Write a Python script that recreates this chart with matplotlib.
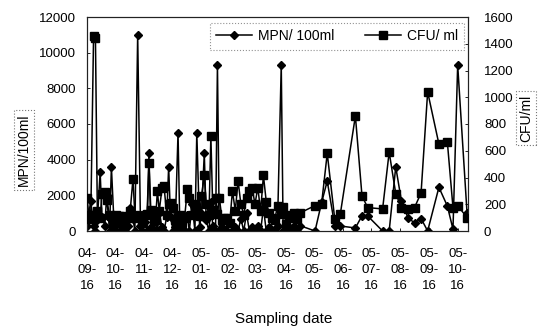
import matplotlib
matplotlib.use('Agg')
import matplotlib.pyplot as plt
import matplotlib.dates as mdates
from matplotlib.lines import Line2D
import datetime as dt

plt.rcParams['font.family'] = ['Liberation Sans', 'DejaVu Sans']

start_date = '2004-09-16'
# sampling day (days since 2004-09-16)
sample_day = [0, 2, 4, 7, 9, 11, 14, 16, 19, 21, 24, 26, 29, 31, 34, 36, 39, 41, 44, 46,
              49, 51, 54, 57, 59, 62, 64, 66, 68, 71, 73, 75, 77, 80, 82, 85, 87, 89, 92, 94,
              97, 99, 101, 104, 107, 109, 112, 115, 117, 120, 122, 125, 127, 130, 132, 134, 137, 139, 141, 144,
              146, 149, 152, 155, 158, 161, 164, 167, 170, 173, 176, 179, 182, 185, 188, 191, 194, 197, 200, 203,
              207, 209, 212, 215, 218, 221, 224, 227, 243, 250, 256, 264, 270, 286, 293, 299, 315, 322, 329, 335,
              342, 349, 356, 363, 375, 384, 390, 395, 405]
mpn = [300, 1000, 1700, 300, 0, 600, 3300, 800, 300, 2000, 0, 3600, 200, 0, 400, 0, 100, 0, 300, 1300,
       700, 0, 11000, 300, 0, 500, 0, 4350, 200, 0, 500, 0, 1000, 200, 0, 800, 3600, 800, 0, 200,
       5500, 0, 400, 0, 900, 0, 1500, 0, 5500, 200, 1000, 4350, 600, 0, 1600, 300, 0, 9300, 0, 200,
       0, 0, 500, 0, 200, 0, 700, 0, 1000, 0, 200, 0, 300, 0, 1300, 0, 200, 0, 100, 300,
       9300, 0, 0, 200, 0, 300, 0, 300, 0, 1600, 2800, 300, 280, 170, 850, 850, 0, 0, 3600, 1700,
       750, 450, 700, 0, 2450, 1400, 100, 9300, 1000]
cfu = [250, 120, 90, 1460, 1440, 150, 100, 280, 290, 230, 120, 110, 60, 120, 110, 60, 110, 50, 100, 150,
       390, 120, 100, 110, 60, 120, 130, 505, 160, 100, 80, 300, 150, 325, 340, 120, 200, 210, 170, 80,
       100, 120, 60, 100, 315, 250, 120, 200, 150, 110, 260, 415, 200, 120, 710, 160, 250, 130, 250, 80,
       100, 100, 60, 300, 150, 375, 200, 120, 250, 300, 325, 200, 325, 150, 415, 220, 135, 100, 80, 190,
       130, 180, 55, 120, 100, 135, 90, 135, 190, 205, 580, 90, 130, 860, 265, 175, 165, 590, 280, 175,
       165, 175, 285, 1040, 650, 665, 175, 190, 100]

tick_dates = ['2004-09-16', '2004-10-16', '2004-11-16', '2004-12-16', '2005-01-16', '2005-02-16',
              '2005-03-16', '2005-04-16', '2005-05-16', '2005-06-16', '2005-07-16', '2005-08-16',
              '2005-09-16', '2005-10-16']
tick_labels = ['04-\n09-\n16', '04-\n10-\n16', '04-\n11-\n16', '04-\n12-\n16', '05-\n01-\n16',
               '05-\n02-\n16', '05-\n03-\n16', '05-\n04-\n16', '05-\n05-\n16', '05-\n06-\n16',
               '05-\n07-\n16', '05-\n08-\n16', '05-\n09-\n16', '05-\n10-\n16']
mpn_ticks = [0, 2000, 4000, 6000, 8000, 10000, 12000]
cfu_ticks = [0, 200, 400, 600, 800, 1000, 1200, 1400, 1600]

s0 = dt.datetime.strptime(start_date, '%Y-%m-%d')
dates = [s0 + dt.timedelta(days=d) for d in sample_day]
tdates = [dt.datetime.strptime(t, '%Y-%m-%d') for t in tick_dates]

W, H = 542, 329
fig = plt.figure(figsize=(W / 100, H / 100), dpi=100)
ax = fig.add_axes([87 / W, 1 - 231 / H, (468 - 87) / W, (231 - 17) / H])
ax2 = ax.twinx()

ax.plot(dates, mpn, color='black', lw=1.1, marker='D', ms=4.3, mfc='black', mec='black', zorder=3)
ax2.plot(dates, cfu, color='black', lw=1.1, marker='s', ms=5.7, mfc='black', mec='black', zorder=3)

ax.set_xlim(s0, s0 + dt.timedelta(days=406))
ax.set_ylim(0, 12000)
ax2.set_ylim(0, 1600)
ax.set_yticks(mpn_ticks)
ax.set_yticklabels([str(v) for v in mpn_ticks])
ax2.set_yticks(cfu_ticks)
ax2.set_yticklabels([str(v) for v in cfu_ticks])
ax.set_xticks(tdates)
ax.set_xticklabels(tick_labels, linespacing=1.45, ha='center')

ax.tick_params(axis='y', direction='in', length=2.5, width=0.6, labelsize=9.5, pad=8)
ax2.tick_params(axis='y', direction='in', length=2.5, width=0.6, labelsize=9.5, pad=11.5)
ax.tick_params(axis='x', direction='in', length=2.5, width=0.6, labelsize=9.5, pad=12)
for a in (ax, ax2):
    for sp in a.spines.values():
        sp.set_linewidth(0.8)
        sp.set_color('#222222')

fig.text(24 / W, 1 - 150 / H, 'MPN/100ml', rotation=90, ha='center', va='center', fontsize=10,
         bbox=dict(boxstyle='square,pad=0.25', fc='white', ec='#777777', ls=':', lw=0.8))
fig.text(526 / W, 1 - 118 / H, 'CFU/ml', rotation=90, ha='center', va='center', fontsize=10,
         bbox=dict(boxstyle='square,pad=0.25', fc='white', ec='#777777', ls=':', lw=0.8))
fig.text(284 / W, 1 - 319 / H, 'Sampling date', ha='center', va='center', fontsize=11)

handles = [Line2D([], [], color='black', lw=1.1, marker='D', ms=4.3),
           Line2D([], [], color='black', lw=1.1, marker='s', ms=5.7)]
leg = ax2.legend(handles, ['MPN/ 100ml', 'CFU/ ml'], ncol=2, loc='upper left',
                 bbox_to_anchor=((210 - 87) / (468 - 87), 1 - (23 - 17) / (231 - 17)),
                 frameon=True, fancybox=False, fontsize=10, handlelength=2.6, columnspacing=2.2,
                 borderpad=0.45, handletextpad=0.4, borderaxespad=0)
leg.get_frame().set_linestyle(':')
leg.get_frame().set_edgecolor('#777777')
leg.get_frame().set_linewidth(0.8)

fig.savefig('out.png', dpi=100)
